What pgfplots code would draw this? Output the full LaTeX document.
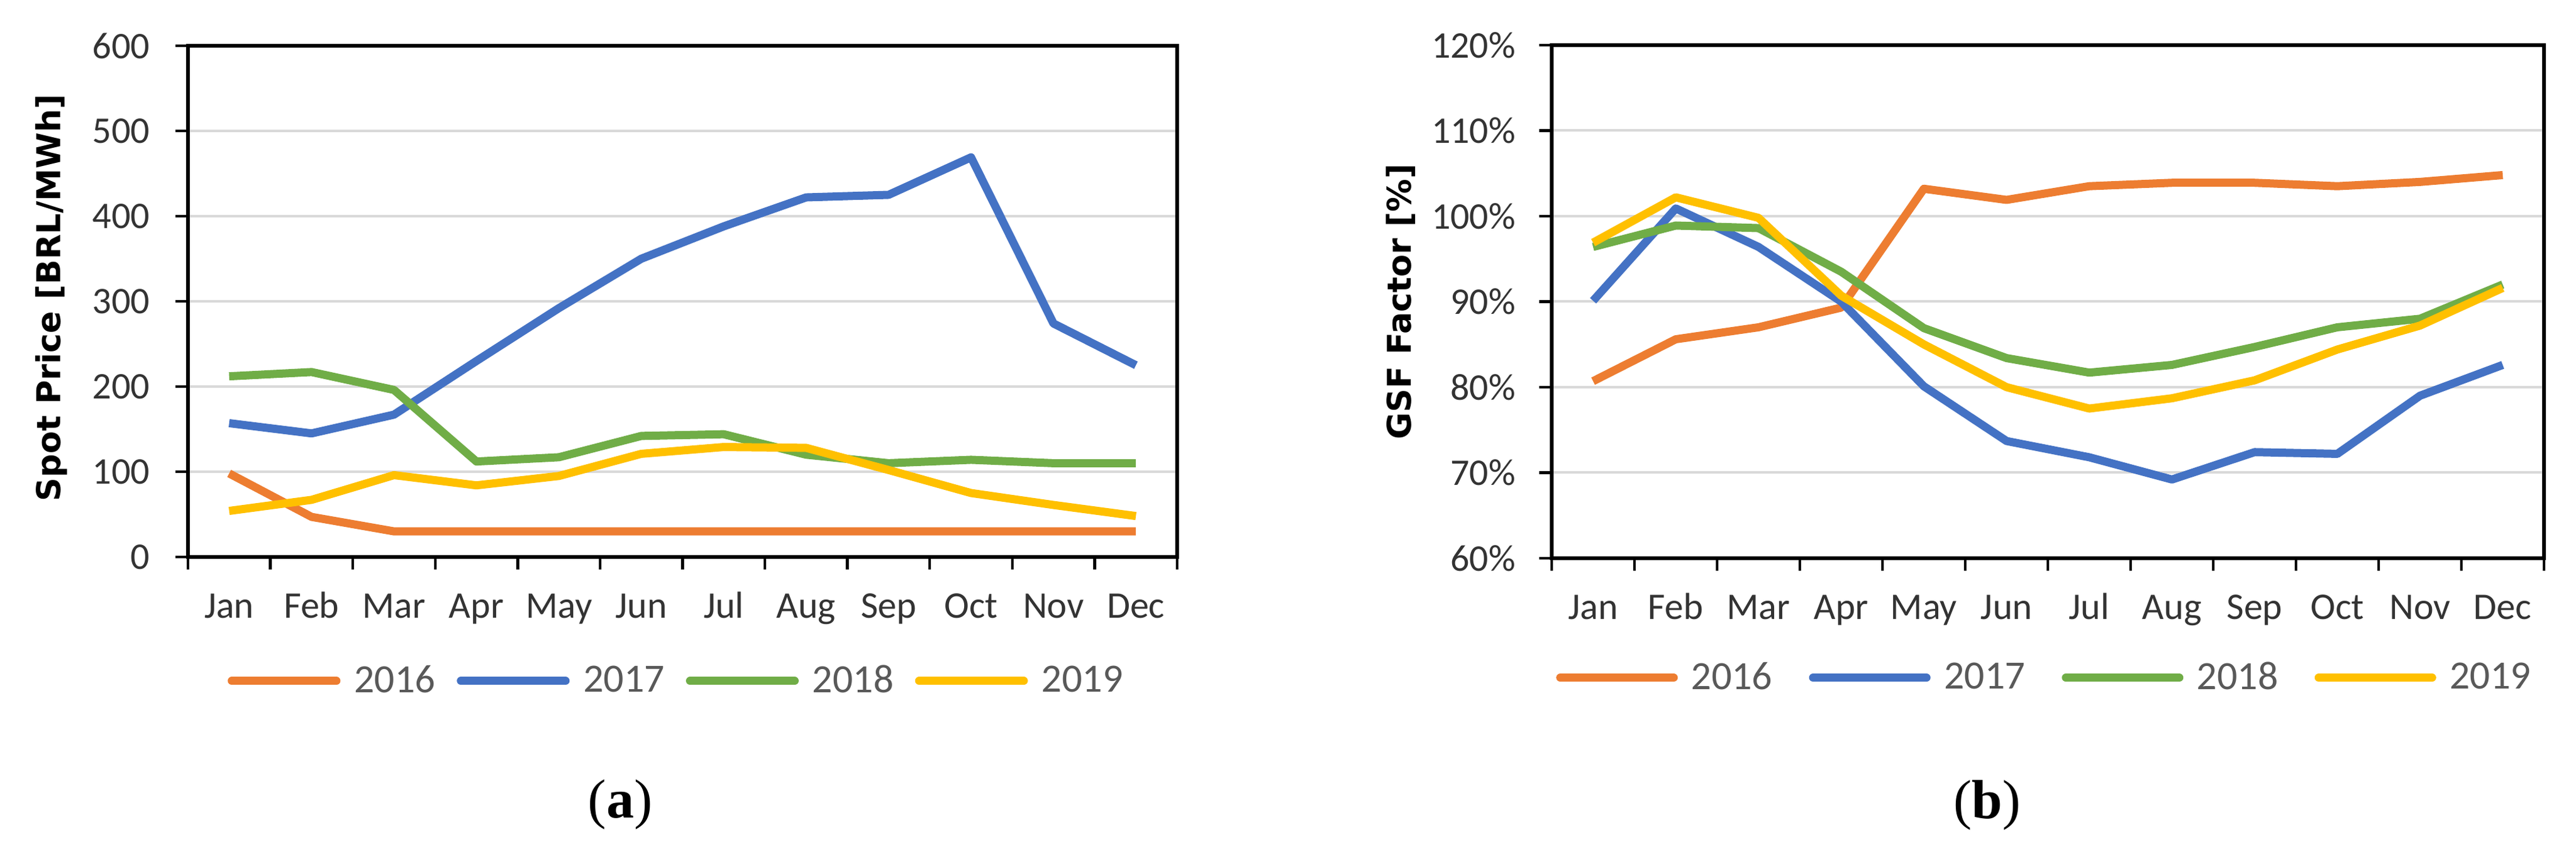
\documentclass[border=0pt]{standalone}
\usepackage{fontspec}
\setmainfont{Carlito}
\newfontfamily\labfont{DejaVu Sans}
\newfontfamily\capfont{Liberation Serif}
\usepackage{pgfplots}
\usepackage{pgfplotstable}
\pgfplotsset{compat=1.18}

\definecolor{c16}{HTML}{ED7D31}
\definecolor{c17}{HTML}{4472C4}
\definecolor{c18}{HTML}{70AD47}
\definecolor{c19}{HTML}{FFC000}
\definecolor{gridgray}{HTML}{D9D9D9}
\definecolor{ticktext}{HTML}{333333}
\definecolor{legtext}{HTML}{595959}

% monthly spot price, BRL/MWh
\pgfplotstableread{
m  y2016 y2017 y2018 y2019
1  98   157  212  54
2  47   145  217  67
3  30   167  196  96
4  30   230  112  84
5  30   292  117  95
6  30   350  142  121
7  30   388  144  129
8  30   422  120  128
9  30   425  110  102
10 30   469  114  75
11 30   274  110  61
12 30   225  110  48
}\spot

% GSF factor, %
\pgfplotstableread{
m  y2016 y2017 y2018 y2019
1  80.7  90.1  96.4  96.9
2  85.6  100.9 98.9  102.2
3  87.0  96.4  98.6  99.8
4  89.3  90.0  93.5  90.7
5  103.2 80.1  86.9  85.0
6  101.9 73.7  83.4  80.0
7  103.5 71.8  81.7  77.5
8  103.9 69.2  82.6  78.7
9  103.9 72.4  84.7  80.8
10 103.5 72.2  87.0  84.4
11 104.0 79.0  88.0  87.2
12 104.8 82.6  92.0  91.6
}\gsf

\pgfplotsset{
  months/.style={
    scale only axis,
    clip=false,
    xmin=0.5, xmax=12.5,
    xtick={0.5,1.5,...,12.5},
    xticklabels={Jan,Feb,Mar,Apr,May,Jun,Jul,Aug,Sep,Oct,Nov,Dec},
    x tick label as interval,
    tick align=outside,
    xtick pos=bottom, ytick pos=left,
    major tick length=5pt,
    tick style={black, line width=1.1pt},
    axis line style={black, line width=1.3pt},
    ymajorgrids,
    grid style={gridgray, line width=1pt},
    ticklabel style={font=\fontsize{15}{18}\selectfont, text=ticktext},
    xticklabel style={anchor=base, yshift=-19.5pt},
    yticklabel style={anchor=east, inner sep=0pt},
    legend columns=4,
    legend image code/.code={\draw[#1, line cap=round] (0pt,0pt) -- (41.75pt,0pt);},
    legend style={draw=none, fill=none, anchor=center,
      font=\fontsize{16}{19}\selectfont, text=legtext,
      nodes={inner sep=0pt},
      /tikz/every odd column/.append style={column sep=5.5pt},
      /tikz/every even column/.append style={column sep=8.5pt}},
    every axis plot/.append style={line width=3.25pt, line join=round},
  }
}

\begin{document}
\begin{tikzpicture}
\path[use as bounding box] (0,0) rectangle (1028pt,336pt);

\begin{axis}[months,
  at={(75pt,113.75pt)}, anchor=south west,
  width=394.75pt, height=204pt,
  ymin=0, ymax=600,
  ytick={0,100,...,600},
  yticklabels={0,100,200,300,400,500,600},
  yticklabel style={xshift=-10pt},
  ylabel={\labfont\bfseries\fontsize{13.1}{15}\selectfont Spot Price [BRL/MWh]},
  ylabel style={at={(axis description cs:0,0.507)}, anchor=center, yshift=54.5pt},
  legend style={at={(axis description cs:0.4927,-0.2426)}},
]
\addplot[c16] table[x=m, y=y2016] {\spot};
\addplot[c17] table[x=m, y=y2017] {\spot};
\addplot[c18] table[x=m, y=y2018] {\spot};
\addplot[c19] table[x=m, y=y2019] {\spot};
\legend{2016,2017,2018,2019}
\node[font=\capfont\fontsize{22}{26}\selectfont] at (axis description cs:0.437,-0.485) {(\textbf{a})};
\end{axis}

\begin{axis}[months,
  at={(619.25pt,113.25pt)}, anchor=south west,
  width=396pt, height=204.75pt,
  ymin=60, ymax=120,
  ytick={60,70,...,120},
  yticklabels={60\%,70\%,80\%,90\%,100\%,110\%,120\%},
  yticklabel style={xshift=-9.25pt},
  ylabel={\labfont\bfseries\fontsize{13.1}{15}\selectfont GSF Factor [\%]},
  ylabel style={at={(axis description cs:0,0.5)}, anchor=center, yshift=60.25pt},
  legend image code/.code={\draw[#1, line cap=round] (0pt,0pt) -- (45.25pt,0pt);},
  legend style={at={(axis description cs:0.4956,-0.233)},
    /tikz/every odd column/.append style={column sep=5.35pt},
    /tikz/every even column/.append style={column sep=14.6pt}},
]
\addplot[c16] table[x=m, y=y2016] {\gsf};
\addplot[c17] table[x=m, y=y2017] {\gsf};
\addplot[c18] table[x=m, y=y2018] {\gsf};
\addplot[c19] table[x=m, y=y2019] {\gsf};
\legend{2016,2017,2018,2019}
\node[font=\capfont\fontsize{22}{26}\selectfont] at (axis description cs:0.4388,-0.481) {(\textbf{b})};
\end{axis}
\end{tikzpicture}
\end{document}
